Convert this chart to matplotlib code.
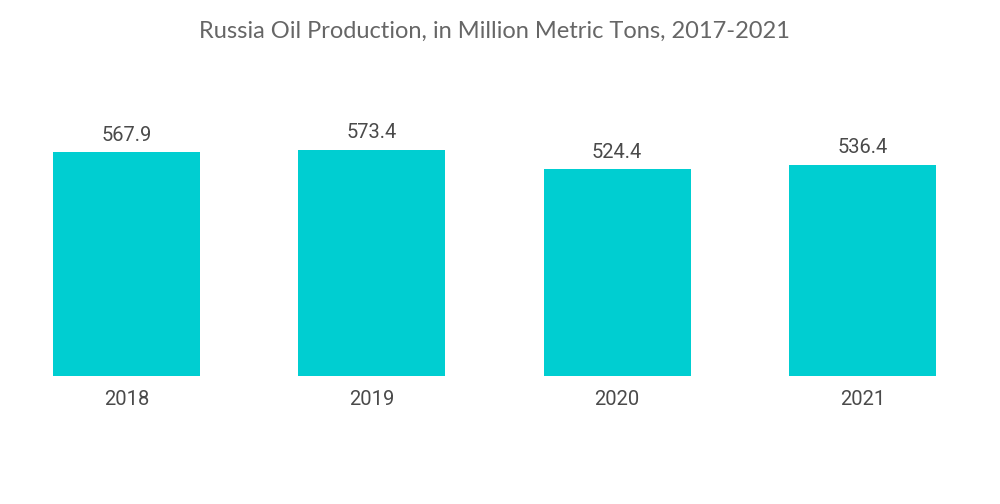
import matplotlib
matplotlib.use("Agg")
import matplotlib.pyplot as plt

years = ["2018", "2019", "2020", "2021"]
production = [567.9, 573.4, 524.4, 536.4]

bar_color = "#00CED1"
fig = plt.figure(figsize=(10, 5.04), dpi=100)
ax = fig.add_axes([53 / 1000, (504 - 376) / 504, 883 / 1000, 276 / 504])

x = range(len(years))
bars = ax.bar(x, production, width=0.6, color=bar_color)
for xi, v in zip(x, production):
    ax.text(xi, v + 19, f"{v:.1f}", ha="center", va="bottom",
            fontsize=14.5, family="Roboto", color="#4a4a4a")

ax.set_xlim(-0.3, 3.3)
ax.set_ylim(0, 700)
ax.set_xticks(list(x))
ax.set_xticklabels(years, fontsize=14.5, family="Roboto", color="#4a4a4a")
ax.tick_params(axis="x", length=0, pad=10)
ax.set_yticks([])
for s in ax.spines.values():
    s.set_visible(False)

fig.text(0.494, 0.937, "Russia Oil Production, in Million Metric Tons, 2017-2021",
         ha="center", va="center", fontsize=17, family="Lato", color="#666666")

fig.savefig("out.png", dpi=100)
